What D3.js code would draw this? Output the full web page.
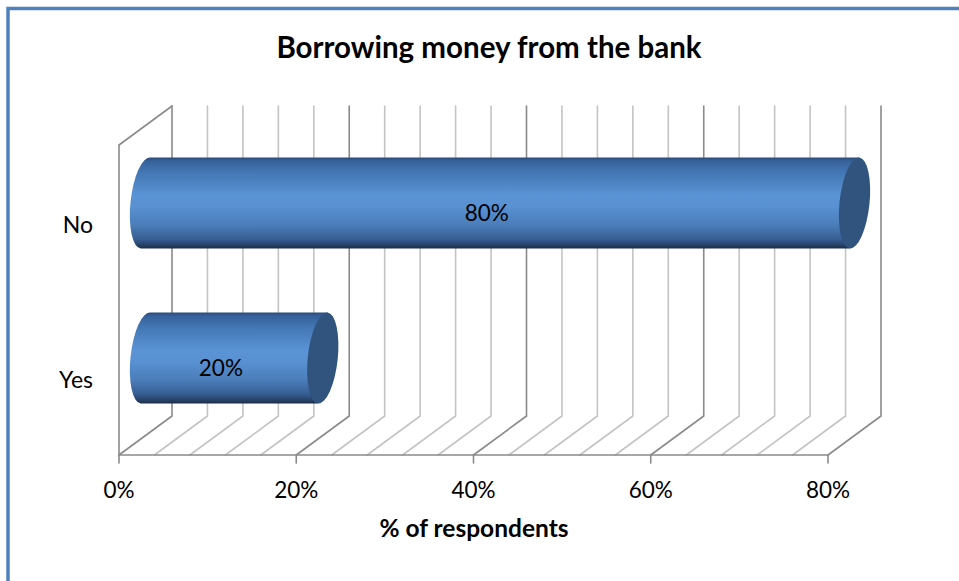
<!DOCTYPE html>
<html>
<head>
<meta charset="utf-8">
<script src="https://cdn.jsdelivr.net/npm/d3@7"></script>
<style>
  html, body { margin: 0; padding: 0; background: #fff; }
  svg { display: block; }
  text { font-family: Lato, "Open Sans", sans-serif; fill: #000; }
</style>
</head>
<body>
<svg id="chart" width="959" height="581"></svg>
<script>
// Survey answers: share of respondents who borrow money from the bank
const categories = ["No", "Yes"];
const values = [80, 20];
const valueLabels = ["80%", "20%"];
const tickValues = [0, 20, 40, 60, 80];
const tickLabels = ["0%", "20%", "40%", "60%", "80%"];
const gridValues = d3.range(0, 81, 4);
const title = "Borrowing money from the bank";
const axisTitle = "% of respondents";

const svg = d3.select("#chart");

// frame
svg.append("rect")
  .attr("x", 8).attr("y", 8.5)
  .attr("width", 1000).attr("height", 1000)
  .attr("fill", "#fff")
  .attr("stroke", "#4f81bd").attr("stroke-width", 3.5);

// 3D projection: front plane plus a depth offset
const depthDX = 53, depthDY = -39;
const frontTop = 145, frontBottom = 455;
const x = d3.scaleLinear().domain([0, 80]).range([119, 828]);
const y = d3.scaleBand().domain(categories).range([frontTop, frontBottom]).paddingInner(0.41).paddingOuter(0.205);
const px = (v, t) => x(v) + t * depthDX;
const py = (yy, t) => yy + t * depthDY;

const grid = svg.append("g").attr("fill", "none").attr("stroke-linecap", "round");
const isMajor = v => v % 20 === 0;

// back wall + floor gridlines
gridValues.forEach(v => {
  const col = isMajor(v) ? "#8a8a8a" : "#c4c4c4";
  grid.append("path")
    .attr("d", `M${px(v,1)},${py(frontTop,1)} L${px(v,1)},${py(frontBottom,1)} L${px(v,0)},${py(frontBottom,0)}`)
    .attr("stroke", col).attr("stroke-width", 1.6);
});

// side wall edges
grid.append("path")
  .attr("d", `M${px(0,0)},${frontBottom} L${px(0,0)},${frontTop} L${px(0,1)},${py(frontTop,1)}`)
  .attr("stroke", "#8a8a8a").attr("stroke-width", 1.6);

// front floor edge and ticks
grid.append("line")
  .attr("x1", x(0)).attr("x2", x(80))
  .attr("y1", frontBottom).attr("y2", frontBottom)
  .attr("stroke", "#8a8a8a").attr("stroke-width", 1.6);
tickValues.forEach(v => {
  grid.append("line")
    .attr("x1", x(v)).attr("x2", x(v))
    .attr("y1", frontBottom).attr("y2", frontBottom + 8)
    .attr("stroke", "#8a8a8a").attr("stroke-width", 1.6);
});

// tick labels
svg.append("g").selectAll("text").data(tickValues).join("text")
  .attr("x", d => x(d)).attr("y", 498)
  .attr("text-anchor", "middle")
  .attr("font-size", 22.5)
  .text((d, i) => tickLabels[i]);

// category labels
svg.append("g").selectAll("text").data(categories).join("text")
  .attr("x", 93).attr("y", d => y(d) + y.bandwidth() / 2 + 10)
  .attr("text-anchor", "end")
  .attr("font-size", 23)
  .text(d => d);

// cylinder shading
const defs = svg.append("defs");
const grad = defs.append("linearGradient")
  .attr("id", "cyl").attr("x1", 0).attr("y1", 0).attr("x2", 0).attr("y2", 1);
[
  [0, "#2c4c78"], [0.04, "#36619a"], [0.15, "#4275b2"], [0.42, "#5b94d6"],
  [0.55, "#5890d1"], [0.75, "#4a7cb8"], [0.9, "#365d91"], [0.97, "#253f62"], [1, "#1b2c45"]
].forEach(([o, c]) => grad.append("stop").attr("offset", o).attr("stop-color", c));

// cylinders at mid depth
const bars = svg.append("g");
const rx = 15, tilt = 6;
categories.forEach((c, i) => {
  const h = y.bandwidth();
  const cy = py(y(c) + h / 2, 0.5);
  const ry = h / 2;
  const x0 = px(0, 0.5), x1 = px(values[i], 0.5);
  const s = ry * Math.sin(tilt * Math.PI / 180);
  const topY = cy - ry * Math.cos(tilt * Math.PI / 180);
  const botY = cy + ry * Math.cos(tilt * Math.PI / 180);
  bars.append("path")
    .attr("d", `M${x0 + s},${topY} L${x1 + s},${topY} L${x1 - s},${botY} L${x0 - s},${botY} A${rx},${ry} ${tilt} 0 1 ${x0 + s},${topY} Z`)
    .attr("fill", "url(#cyl)");
  bars.append("ellipse")
    .attr("cx", x1).attr("cy", cy)
    .attr("rx", rx).attr("ry", ry)
    .attr("transform", `rotate(${tilt},${x1},${cy})`)
    .attr("fill", "#31547f");
  // value label
  svg.append("text")
    .attr("x", px(values[i] / 2, 0.25))
    .attr("y", py(y(c) + h / 2, 0.25) + 8)
    .attr("text-anchor", "middle")
    .attr("font-size", 22.5)
    .text(valueLabels[i]);
});

// titles
svg.append("text")
  .attr("x", 489).attr("y", 58)
  .attr("text-anchor", "middle")
  .attr("font-size", 29.5).attr("font-weight", "bold")
  .text(title);
svg.append("text")
  .attr("x", 474).attr("y", 537)
  .attr("text-anchor", "middle")
  .attr("font-size", 24.5).attr("font-weight", "bold")
  .text(axisTitle);
</script>
</body>
</html>
